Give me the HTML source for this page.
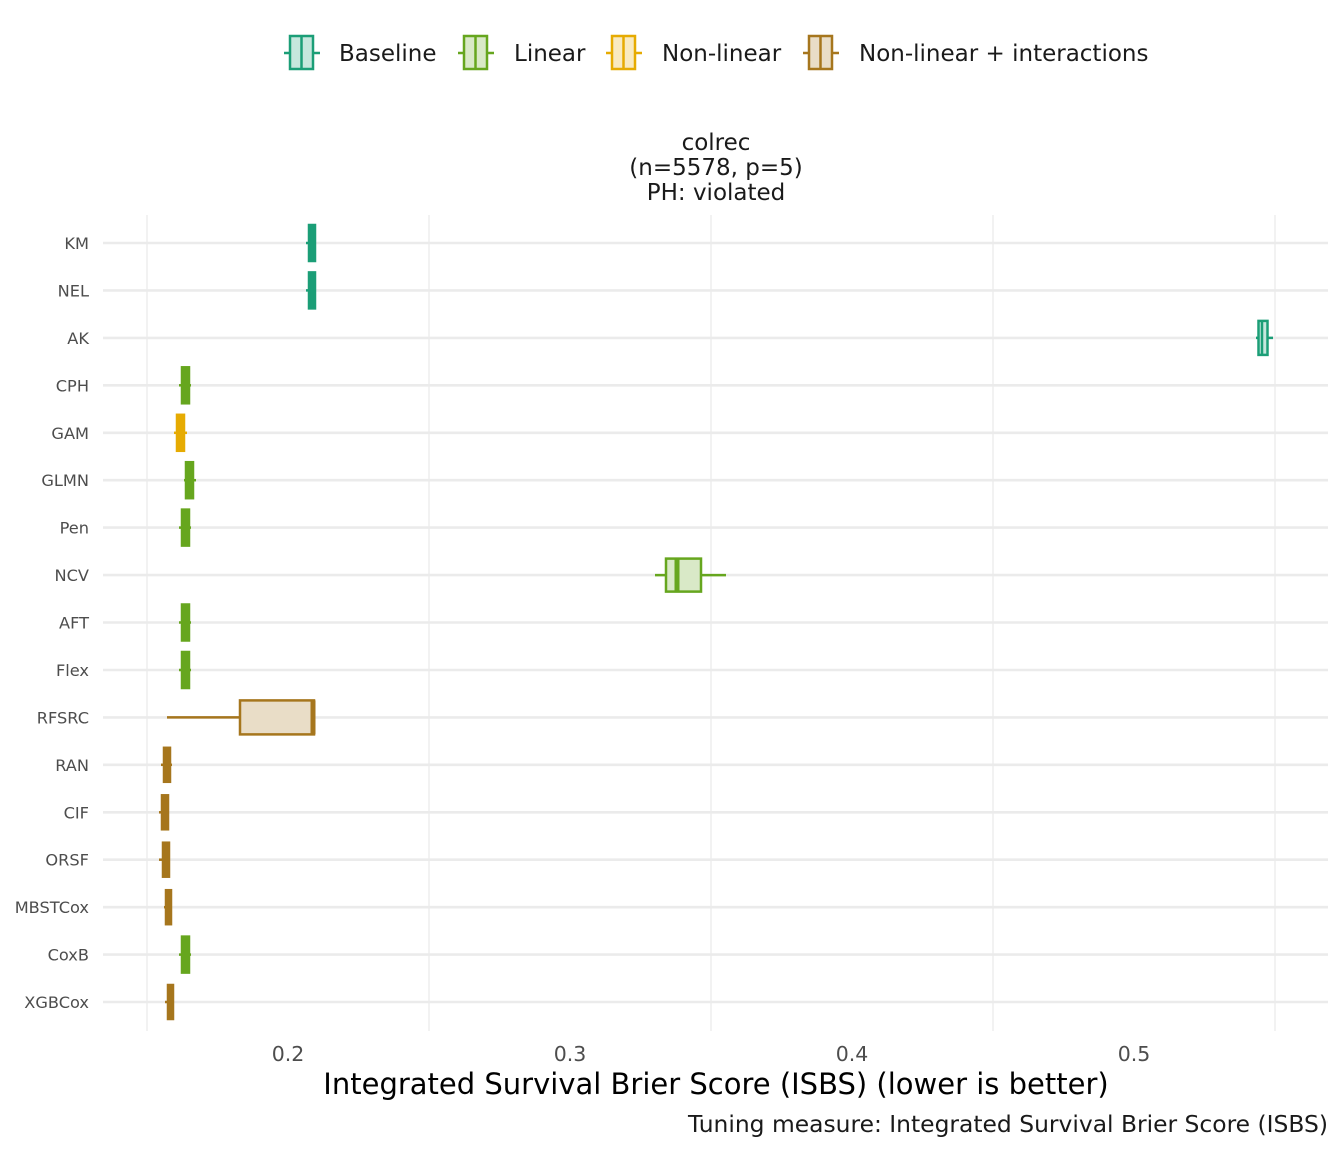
<!DOCTYPE html>
<html><head><meta charset="utf-8"><style>
html,body{margin:0;padding:0;background:#fff;}
svg text{font-family:"DejaVu Sans","Liberation Sans",sans-serif;}
</style></head><body>
<svg width="1344" height="1152" viewBox="0 0 1344 1152" xmlns="http://www.w3.org/2000/svg">
<rect width="1344" height="1152" fill="#fff"/>
<g stroke-width="2.5">
<line x1="284" y1="53" x2="320" y2="53" stroke="#1b9e77"/><rect x="290" y="36" width="23" height="33" fill="#c6e7dd" stroke="#1b9e77"/><line x1="301.5" y1="36" x2="301.5" y2="69" stroke="#1b9e77"/>
<line x1="458" y1="53" x2="494" y2="53" stroke="#66a61e"/><rect x="464" y="36" width="23" height="33" fill="#d9e9c7" stroke="#66a61e"/><line x1="475.5" y1="36" x2="475.5" y2="69" stroke="#66a61e"/>
<line x1="606" y1="53" x2="642" y2="53" stroke="#e6ab02"/><rect x="612" y="36" width="23" height="33" fill="#f9eac0" stroke="#e6ab02"/><line x1="623.5" y1="36" x2="623.5" y2="69" stroke="#e6ab02"/>
<line x1="803" y1="53" x2="839" y2="53" stroke="#a6761d"/><rect x="809" y="36" width="23" height="33" fill="#e9ddc7" stroke="#a6761d"/><line x1="820.5" y1="36" x2="820.5" y2="69" stroke="#a6761d"/>
</g>
<g font-size="23" fill="#1a1a1a">
<text x="339" y="61">Baseline</text><text x="514" y="61">Linear</text><text x="662" y="61">Non-linear</text><text x="859" y="61">Non-linear + interactions</text>
</g>
<g font-size="23" fill="#1a1a1a" text-anchor="middle">
<text x="716" y="150">colrec</text><text x="716" y="175">(n=5578, p=5)</text><text x="716" y="200">PH: violated</text>
</g>
<g stroke="#ebebeb" stroke-width="1.3">
<line x1="147" y1="215" x2="147" y2="1031"/><line x1="429" y1="215" x2="429" y2="1031"/><line x1="711" y1="215" x2="711" y2="1031"/><line x1="993" y1="215" x2="993" y2="1031"/><line x1="1275" y1="215" x2="1275" y2="1031"/>
</g>
<g stroke="#ebebeb" stroke-width="2.6">
<line x1="103" y1="243" x2="1328" y2="243"/><line x1="103" y1="290.4" x2="1328" y2="290.4"/><line x1="103" y1="337.9" x2="1328" y2="337.9"/><line x1="103" y1="385.3" x2="1328" y2="385.3"/><line x1="103" y1="432.8" x2="1328" y2="432.8"/><line x1="103" y1="480.2" x2="1328" y2="480.2"/><line x1="103" y1="527.6" x2="1328" y2="527.6"/><line x1="103" y1="575.1" x2="1328" y2="575.1"/><line x1="103" y1="622.5" x2="1328" y2="622.5"/><line x1="103" y1="670" x2="1328" y2="670"/><line x1="103" y1="717.4" x2="1328" y2="717.4"/><line x1="103" y1="764.8" x2="1328" y2="764.8"/><line x1="103" y1="812.3" x2="1328" y2="812.3"/><line x1="103" y1="859.7" x2="1328" y2="859.7"/><line x1="103" y1="907.2" x2="1328" y2="907.2"/><line x1="103" y1="954.6" x2="1328" y2="954.6"/><line x1="103" y1="1002" x2="1328" y2="1002"/>
</g>
<g font-size="16.2" fill="#4d4d4d" text-anchor="end">
<text x="89" y="249">KM</text><text x="89" y="296.4">NEL</text><text x="89" y="343.9">AK</text><text x="89" y="391.3">CPH</text><text x="89" y="438.8">GAM</text><text x="89" y="486.2">GLMN</text><text x="89" y="533.6">Pen</text><text x="89" y="581.1">NCV</text><text x="89" y="628.5">AFT</text><text x="89" y="676">Flex</text><text x="89" y="723.4">RFSRC</text><text x="89" y="770.8">RAN</text><text x="89" y="818.3">CIF</text><text x="89" y="865.7">ORSF</text><text x="89" y="913.2">MBSTCox</text><text x="89" y="960.6">CoxB</text><text x="89" y="1008">XGBCox</text>
</g>
<g stroke-width="2.5">
<g fill="#1b9e77" stroke="#1b9e77">
<line x1="306" y1="243" x2="316" y2="243"/><rect x="309" y="225" width="6" height="36"/>
<line x1="306" y1="290.4" x2="316" y2="290.4"/><rect x="309" y="272.4" width="6" height="36"/>
<line x1="1256" y1="337.9" x2="1273" y2="337.9"/><rect x="1258.5" y="320.9" width="9" height="34" fill="#c6e7dd"/><line x1="1262" y1="320.9" x2="1262" y2="354.9"/>
</g>
<g fill="#66a61e" stroke="#66a61e">
<line x1="179" y1="385.3" x2="191" y2="385.3"/><rect x="182" y="367.3" width="7" height="36"/>
<line x1="184" y1="480.2" x2="196" y2="480.2"/><rect x="186" y="462.2" width="7" height="36"/>
<line x1="179" y1="527.6" x2="191" y2="527.6"/><rect x="182" y="509.6" width="7" height="36"/>
<line x1="655" y1="575.1" x2="726" y2="575.1"/><rect x="666" y="558.6" width="35" height="33" fill="#d9e9c7"/><line x1="677" y1="558.6" x2="677" y2="591.6" stroke-width="5"/>
<line x1="179" y1="622.5" x2="191" y2="622.5"/><rect x="182" y="604.5" width="7" height="36"/>
<line x1="179" y1="670" x2="191" y2="670"/><rect x="182" y="652" width="7" height="36"/>
<line x1="179" y1="954.6" x2="191" y2="954.6"/><rect x="182" y="936.6" width="7" height="36"/>
</g>
<g fill="#e6ab02" stroke="#e6ab02">
<line x1="174" y1="432.8" x2="187" y2="432.8"/><rect x="177" y="414.8" width="7" height="36"/>
</g>
<g fill="#a6761d" stroke="#a6761d">
<line x1="167" y1="717.4" x2="240" y2="717.4"/><rect x="240" y="700.4" width="74" height="34" fill="#e9ddc7"/><line x1="313" y1="700.4" x2="313" y2="734.4" stroke-width="5"/>
<line x1="161" y1="764.8" x2="172" y2="764.8"/><rect x="164" y="747.8" width="6" height="34"/>
<line x1="159" y1="812.3" x2="169" y2="812.3"/><rect x="162" y="795.3" width="6" height="34"/>
<line x1="159" y1="859.7" x2="170" y2="859.7"/><rect x="163" y="842.7" width="6" height="34"/>
<line x1="164" y1="907.2" x2="172" y2="907.2"/><rect x="166" y="890.2" width="5" height="34"/>
<line x1="165" y1="1002" x2="174" y2="1002"/><rect x="168" y="985" width="5" height="34"/>
</g>
</g>
<g font-size="20.5" fill="#4d4d4d" text-anchor="middle">
<text x="288" y="1061">0.2</text><text x="570" y="1061">0.3</text><text x="852" y="1061">0.4</text><text x="1134" y="1061">0.5</text>
</g>
<text x="716" y="1094" font-size="29" fill="#000" text-anchor="middle">Integrated Survival Brier Score (ISBS) (lower is better)</text>
<text x="1328" y="1132" font-size="23.4" fill="#1a1a1a" text-anchor="end">Tuning measure: Integrated Survival Brier Score (ISBS)</text>
</svg>
</body></html>
